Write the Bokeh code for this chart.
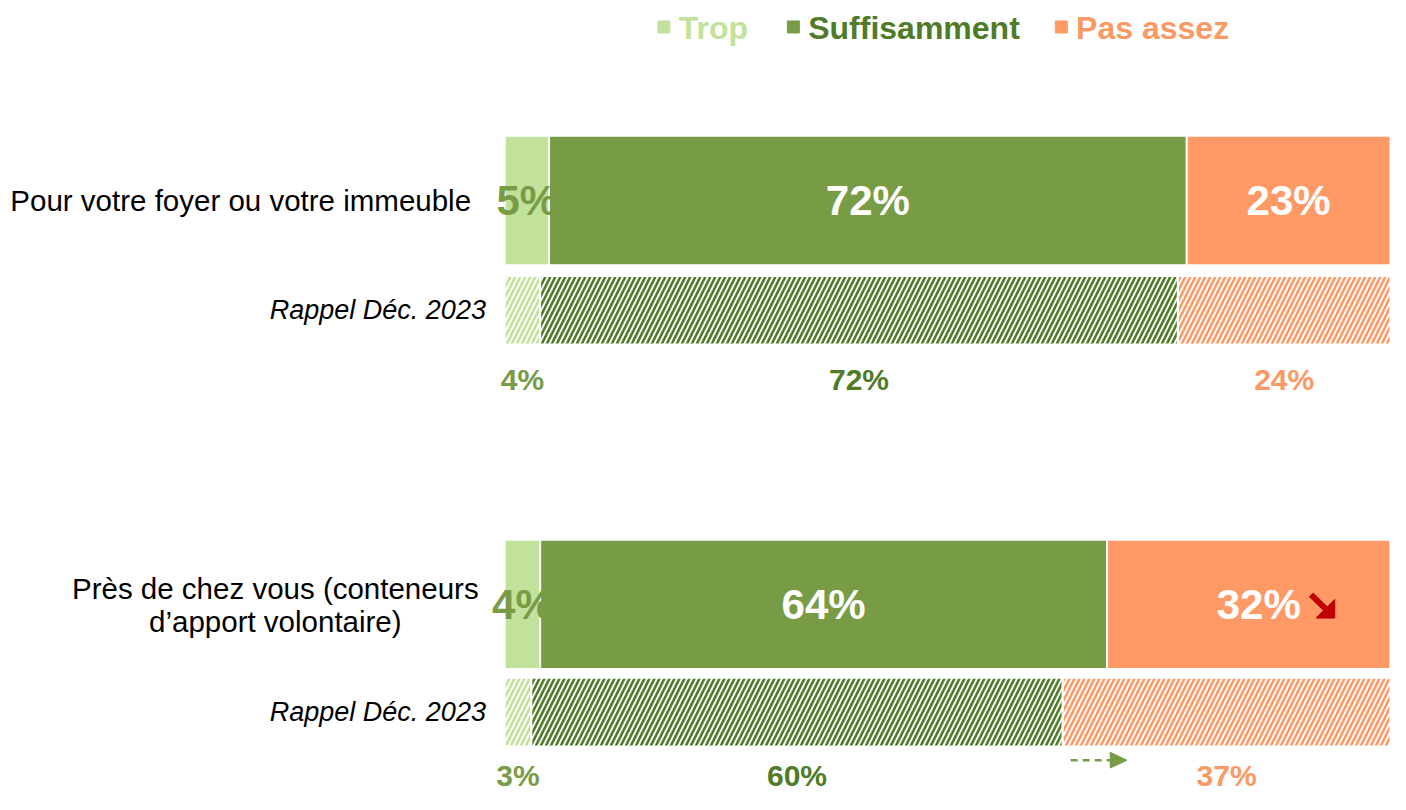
import numpy as np
from bokeh.plotting import figure
from bokeh.models import Range1d, ColumnDataSource
from bokeh.core.properties import value
from bokeh.embed import file_html
from bokeh.resources import INLINE

# ---------------- data ----------------
categories = ["Pour votre foyer ou votre immeuble",
              "Près de chez vous (conteneurs\nd’apport volontaire)"]
series = ["Trop", "Suffisamment", "Pas assez"]
current_trop = [5, 4]
current_suff = [72, 64]
current_pas = [23, 32]
recall_trop = [4, 3]
recall_suff = [72, 60]
recall_pas = [24, 37]
recall_label = "Rappel Déc. 2023"
trend_down = [False, True]      # significant decrease of "Pas assez"
shift_arrow = [False, True]     # dashed shift indicator under the recall bar

# ---------------- style ----------------
TROP = "#c2e29b"
SUFF = "#789c46"
SUFF_DARK = "#4f7b28"
PAS = "#ff9a66"
PAS_TEXT = "#fa9964"
RED = "#c00000"
FONT = value("Liberation Sans")

W, H = 1390, 794
REF_W, REF_H = 1406, 810
BAR_L, BAR_R = 510, 1406          # reference pixel span of 0..100 %
PXU = (BAR_R - BAR_L) / 100.0


def rx(xref):
    """reference pixel x -> data x (percent)"""
    return (xref - BAR_L) / PXU


p = figure(width=W, height=H, output_backend="svg", toolbar_location=None,
           x_range=Range1d(rx(0), rx(REF_W)), y_range=Range1d(REF_H, 0),
           min_border=0, outline_line_color=None)
p.axis.visible = False
p.grid.visible = False
p.background_fill_color = "white"
p.border_fill_color = "white"

main_y = [204, 616]
recall_y = [316, 726]
recall_lab_y = [387, 791]
MAIN_H = 132
REC_H = 70

colors = [TROP, SUFF, PAS]
hatch_colors = [TROP, SUFF_DARK, PAS]

cur = [current_trop, current_suff, current_pas]
rec = [recall_trop, recall_suff, recall_pas]

cur_left = np.zeros(2)
rec_left = np.zeros(2)
cur_centers, rec_centers = [], []
for k in range(3):
    cv = np.array(cur[k], dtype=float)
    rv = np.array(rec[k], dtype=float)
    src = ColumnDataSource(dict(y=main_y, left=cur_left, right=cur_left + cv))
    p.hbar(y="y", left="left", right="right", height=MAIN_H, source=src,
           fill_color=colors[k], line_color="white", line_width=2)
    src2 = ColumnDataSource(dict(y=recall_y, left=rec_left, right=rec_left + rv))
    p.hbar(y="y", left="left", right="right", height=REC_H, source=src2,
           fill_color="white", hatch_pattern="/", hatch_color=hatch_colors[k],
           hatch_scale=10, hatch_weight=2.6, line_color="white", line_width=2)
    cur_centers.append(cur_left + cv / 2)
    rec_centers.append(rec_left + rv / 2)
    cur_left = cur_left + cv
    rec_left = rec_left + rv

# ---- values inside current bars ----
in_colors = [SUFF, "white", "white"]
for k in range(3):
    offs = [0, 0]
    if k == 2:
        offs = [0, 10 if trend_down[1] else 0]
    p.text(x=list(cur_centers[k]), y=main_y,
           text=[f"{v}%" for v in cur[k]], x_offset=offs,
           text_align="center", text_baseline="middle",
           text_font=FONT, text_font_style="bold", text_font_size="42px",
           text_color=in_colors[k])

# ---- recall values under recall bars ----
rec_colors = [SUFF, SUFF_DARK, PAS_TEXT]
for k in range(3):
    p.text(x=list(rec_centers[k]), y=recall_lab_y,
           text=[f"{v}%" for v in rec[k]],
           text_align="center", text_baseline="middle",
           text_font=FONT, text_font_style="bold", text_font_size="30px",
           text_color=rec_colors[k])

# ---- category labels ----
p.text(x=[rx(476)], y=[main_y[0]], text=[categories[0]],
       text_align="right", text_baseline="middle",
       text_font=FONT, text_font_size="29.5px", text_color="black")
lines = categories[1].split("\n")
p.text(x=[rx(278), rx(278)], y=[main_y[1] - 16, main_y[1] + 18], text=lines,
       text_align="center", text_baseline="middle",
       text_font=FONT, text_font_size="29.5px", text_color="black")
p.text(x=[rx(491)] * 2, y=recall_y, text=[recall_label] * 2,
       text_align="right", text_baseline="middle",
       text_font=FONT, text_font_style="italic", text_font_size="27px",
       text_color="black")

# ---- red down arrow beside "32%" ----
for i in range(2):
    if trend_down[i]:
        cx_ref = BAR_L + float(cur_centers[2][i]) * PXU + 10
        ax = cx_ref + 50
        ay = main_y[i] - 13
        p.segment(x0=[rx(ax + 3)], y0=[ay + 3], x1=[rx(ax + 19)], y1=[ay + 19],
                  line_color=RED, line_width=6)
        p.patch(x=[rx(ax + 27), rx(ax + 27), rx(ax + 8)],
                y=[ay + 8, ay + 27, ay + 27], fill_color=RED, line_color=RED)

# ---- dashed shift arrow ----
for i in range(2):
    if shift_arrow[i]:
        start_ref = BAR_L + float(recall_trop[i] + recall_suff[i]) * PXU
        yy = recall_y[i] + 49
        p.segment(x0=[rx(start_ref + 8)], y0=[yy], x1=[rx(start_ref + 48)], y1=[yy],
                  line_color=SUFF, line_width=2.5, line_dash="7 5")
        p.patch(x=[rx(start_ref + 48), rx(start_ref + 48), rx(start_ref + 65)],
                y=[yy - 8, yy + 8, yy], fill_color=SUFF, line_color=SUFF)

# ---- legend ----
leg_sq_x = [671, 802, 1073]
leg_tx_x = [686, 817, 1088]
leg_sq_col = [TROP, SUFF, PAS]
leg_tx_col = [TROP, SUFF_DARK, PAS_TEXT]
p.scatter(x=[rx(v) for v in leg_sq_x], y=[27] * 3, marker="square", size=12,
          fill_color=leg_sq_col, line_color=leg_sq_col)
p.text(x=[rx(v) for v in leg_tx_x], y=[28] * 3, text=series,
       text_align="left", text_baseline="middle",
       text_font=FONT, text_font_style="bold", text_font_size="32px",
       text_color=leg_tx_col)

open("out.html", "w").write(file_html(p, INLINE))
